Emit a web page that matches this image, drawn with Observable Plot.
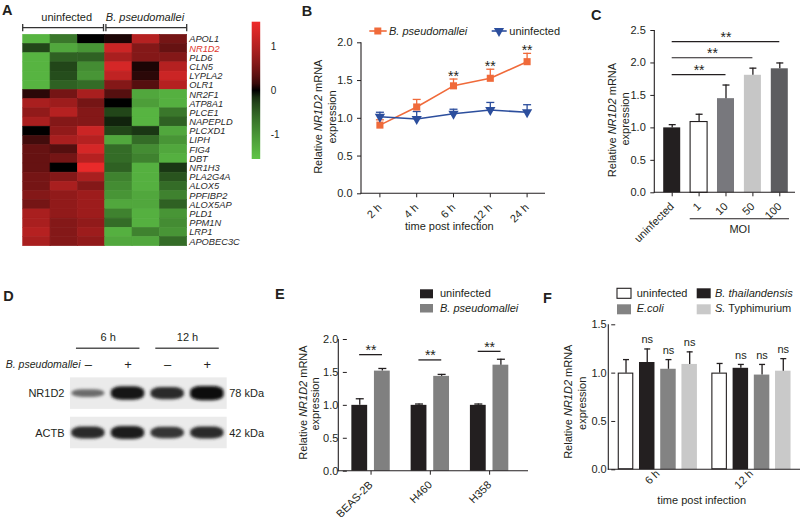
<!DOCTYPE html>
<html><head><meta charset="utf-8">
<script src="https://cdn.jsdelivr.net/npm/d3@7"></script>
<script src="https://cdn.jsdelivr.net/npm/@observablehq/plot@0.6"></script>
<style>
html,body{margin:0;padding:0;background:#fff;}
#root{position:relative;width:800px;height:517px;overflow:hidden;font-family:'Liberation Sans',Arial,sans-serif;}
</style></head><body><div id="root"></div>
<script>
// ---------------- DATA ----------------
// A: heatmap
const heatSamples = ["uninfected 1","uninfected 2","uninfected 3","B. pseudomallei 1","B. pseudomallei 2","B. pseudomallei 3"];
const heatGroups = ["uninfected","B. pseudomallei"];
const genes = ["APOL1","NR1D2","PLD6","CLN5","LYPLA2","OLR1","NR2F1","ATP8A1","PLCE1","NAPEPLD","PLCXD1","LIPH","FIG4","DBT","NR1H3","PLA2G4A","ALOX5","PPFIBP2","ALOX5AP","PLD1","PPM1N","LRP1","APOBEC3C"];
const heatValues = [
  [-1.35,-0.7, 0.0, 0.05, 1.0, 0.5],
  [-0.3,-1.2,-1.0, 1.2, 0.6, 0.4],
  [-1.35,-0.5,-0.5, 0.9, 0.6, 0.6],
  [-1.35,-0.3,-0.9, 1.3, 0.05, 1.0],
  [-1.35,-0.35,-1.0, 1.1, 0.1, 1.2],
  [-1.35,-0.5,-0.6, 0.6, 0.3, 1.0],
  [ 0.1, 0.5, 0.9, 0.3,-1.2,-1.3],
  [ 0.9, 0.8, 0.5, 0.0,-1.1,-1.3],
  [ 0.7, 1.0, 0.6,-0.3,-1.35,-0.7],
  [ 0.9, 0.6, 0.6,-0.1,-1.35,-0.5],
  [ 0.0, 0.7, 1.2,-0.3,-0.2,-1.2],
  [ 0.2, 0.9, 1.0,-1.2,-0.6,-1.0],
  [ 0.4, 0.3, 1.3,-0.6,-0.9,-1.2],
  [ 0.4, 0.5, 1.0,-0.6,-0.8,-1.3],
  [ 0.4, 0.0, 1.5,-0.5,-1.3,-0.2],
  [ 0.5, 0.6, 0.9,-0.8,-1.3,-0.4],
  [ 0.5, 0.9, 0.6,-0.9,-1.3,-0.6],
  [ 0.6, 0.7, 0.8,-1.0,-1.2,-0.8],
  [ 0.5, 0.7, 0.8,-1.2,-1.2,-0.5],
  [ 0.9, 0.7, 0.8,-0.8,-1.3,-1.0],
  [ 0.9, 0.6, 0.7,-0.6,-1.3,-0.9],
  [ 1.0, 0.6, 0.8,-1.3,-0.8,-1.0],
  [ 0.9, 0.6, 0.7,-1.2,-1.2,-0.6]
];
const highlightGene = "NR1D2";
const colorbarTicks = [1, 0, -1];

// B: time course
const timesB = ["2 h","4 h","6 h","12 h","24 h"];
const seriesB = ["B. pseudomallei","uninfected"];
const bpMean = [0.91, 1.15, 1.43, 1.53, 1.75];
const bpErr  = [0.07, 0.10, 0.09, 0.12, 0.11];
const bpSig  = ["", "", "**", "**", "**"];
const uiMean = [1.02, 0.99, 1.06, 1.11, 1.08];
const uiErr  = [0.06, 0.10, 0.06, 0.10, 0.10];

// C: MOI
const moiCats = ["uninfected","1","10","50","100"];
const moiMean = [1.00, 1.09, 1.45, 1.81, 1.91];
const moiErr  = [0.05, 0.12, 0.21, 0.11, 0.09];
const moiSigTo = ["10","50","100"];
const moiSigY  = [1.82, 2.08, 2.33];
const moiGroup = ["1","10","50","100"];

// D: western blot
const laneTimes = ["6 h","6 h","12 h","12 h"];
const laneInfected = ["–","+","–","+"];
const proteins = ["NR1D2","ACTB"];
const proteinKDa = ["78 kDa","42 kDa"];
const nr1d2Intensity = [0.55, 0.95, 0.85, 1.0];
const actbIntensity  = [0.85, 0.9, 0.8, 0.85];

// E: cell lines
const cellLines = ["BEAS-2B","H460","H358"];
const conditionsE = ["uninfected","B. pseudomallei"];
const eUninf = [1.00, 1.00, 1.00];
const eUninfErr = [0.10, 0.02, 0.02];
const eBp = [1.52, 1.44, 1.61];
const eBpErr = [0.04, 0.03, 0.09];
const eSigY = [1.77, 1.69, 1.82];

// F: other bacteria
const timesF = ["6 h","12 h"];
const bugs = ["uninfected","B. thailandensis","E.coli","S. Typhimurium"];
const f6Mean = [1.00, 1.11, 1.04, 1.09];
const f6Err  = [0.14, 0.14, 0.10, 0.13];
const f12Mean = [1.00, 1.05, 0.98, 1.02];
const f12Err  = [0.10, 0.04, 0.11, 0.13];

// ---------------- HELPERS ----------------
const FONT = "'Liberation Sans', Arial, Helvetica, sans-serif";
const INK = "#231f20";
const ORANGE = "#f06a3a";
const BLUE = "#2c4e9d";
const root = document.getElementById("root");
const baseStyle = {fontFamily: FONT, fontSize: "11px", color: INK, background: "transparent", overflow: "visible"};
const capSymbol = w => ({draw(ctx) { ctx.moveTo(-w / 2, 0); ctx.lineTo(w / 2, 0); }});
function place(svg, left, top) {
  svg.style.position = "absolute"; svg.style.left = left + "px"; svg.style.top = top + "px";
  root.appendChild(svg); return svg;
}
function axisLines(svg, {marginLeft, marginRight, width, yMax}) {
  const y = svg.scale("y");
  const y0 = y.apply(0), y1 = y.apply(yMax);
  const g = d3.select(svg).append("g").attr("stroke", INK).attr("stroke-width", 1.1).attr("fill", "none");
  g.append("line").attr("x1", marginLeft).attr("x2", marginLeft).attr("y1", y1).attr("y2", y0 + 0.5);
  g.append("line").attr("x1", marginLeft - 0.5).attr("x2", width - marginRight).attr("y1", y0).attr("y2", y0);
}

// ---------------- A: HEATMAP ----------------
const heatCells = genes.flatMap((g, i) => heatSamples.map((s, j) => ({gene: g, sample: s, value: heatValues[i][j]})));
const A = Plot.plot({
  width: 290, height: 260, marginLeft: 22.7, marginRight: 103.3, marginTop: 34.3, marginBottom: 14.3,
  style: baseStyle,
  x: {domain: heatSamples, padding: 0, axis: null, round: false},
  y: {domain: genes, padding: 0, axis: null, round: false},
  color: {type: "linear", domain: [-1.55, 0, 1.55], range: ["#5fc447", "#000000", "#ee2b2b"], interpolate: d3.interpolateRgb.gamma(1.6)},
  marks: [
    Plot.cell(heatCells, {x: "sample", y: "gene", fill: "value", stroke: "value", strokeWidth: 0.6}),
    Plot.text(genes.filter(g => g !== highlightGene), {y: d => d, text: d => d, frameAnchor: "right", textAnchor: "start", dx: 2, fontStyle: "italic", fontSize: 9.3, fill: "#2a2a2a"}),
    Plot.text([highlightGene], {y: d => d, text: d => d, frameAnchor: "right", textAnchor: "start", dx: 2, fontStyle: "italic", fontSize: 9.3, fill: "#e0352c"})
  ]
});
place(A, 0, 0);

// ---------------- B: TIME COURSE ----------------
const bRows = timesB.flatMap((t, i) => [
  {time: t, series: seriesB[0], mean: bpMean[i], err: bpErr[i], sig: bpSig[i]},
  {time: t, series: seriesB[1], mean: uiMean[i], err: uiErr[i], sig: ""}
]);
const bOpts = {width: 260, height: 250, marginLeft: 71, marginRight: 5, marginTop: 42.3, marginBottom: 56.7};
const B = Plot.plot({
  ...bOpts, style: baseStyle,
  x: {type: "point", domain: timesB, padding: 0.5, tickRotate: -45, tickSize: 4, label: null, round: false},
  y: {domain: [0, 2], ticks: [0, 0.5, 1, 1.5, 2], tickFormat: ".1f", tickSize: 4, label: null},
  color: {domain: seriesB, range: [ORANGE, BLUE]},
  marks: [
    Plot.ruleX(bRows, {x: "time", y1: "mean", y2: d => d.mean + d.err, stroke: "series", strokeWidth: 1.3}),
    Plot.dot(bRows, {x: "time", y: d => d.mean + d.err, symbol: capSymbol(8), stroke: "series", fill: "none", strokeWidth: 1.3}),
    Plot.line(bRows, {x: "time", y: "mean", stroke: "series", strokeWidth: 1.6}),
    Plot.dot(bRows.filter(d => d.series === seriesB[0]), {x: "time", y: "mean", symbol: "square", r: 4, fill: "series"}),
    Plot.dot(bRows.filter(d => d.series === seriesB[1]), {x: "time", y: "mean", symbol: "triangle", rotate: 180, r: 3.8, fill: "series"}),
    Plot.text(bRows.filter(d => d.sig), {x: "time", y: d => d.mean + d.err, text: "sig", dy: -2.6, fontSize: 14})
  ]
});
axisLines(B, {...bOpts, yMax: 2});
place(B, 290, 0);

// ---------------- C: MOI ----------------
const cRows = moiCats.map((c, i) => ({cat: c, i, mean: moiMean[i], err: moiErr[i]}));
const cIdx = c => moiCats.indexOf(c);
const cSig = moiSigTo.map((t, k) => ({from: moiCats[0], to: t, y: moiSigY[k]}));
const cOpts = {width: 240, height: 250, marginLeft: 94.3, marginRight: 5, marginTop: 30, marginBottom: 57.7};
const C = Plot.plot({
  ...cOpts, style: baseStyle,
  x: {domain: [-0.647, 4.584], ticks: moiCats.map((c, i) => i), tickFormat: i => moiCats[i], tickRotate: -45, tickSize: 4, label: null},
  y: {domain: [0, 2.5], ticks: [0, 0.5, 1, 1.5, 2, 2.5], tickFormat: ".1f", tickSize: 4, label: null},
  color: {domain: moiCats, range: [INK, "#ffffff", "#78787d", "#c6c6c6", "#5d5d60"]},
  marks: [
    Plot.rect(cRows, {x1: d => d.i - 0.316, x2: d => d.i + 0.316, y1: 0, y2: "mean", fill: "cat"}),
    Plot.rect(cRows.filter(d => d.cat === "1"), {x1: d => d.i - 0.316, x2: d => d.i + 0.316, y1: 0, y2: "mean", fill: "none", stroke: INK, strokeWidth: 1.1}),
    Plot.ruleX(cRows, {x: "i", y1: "mean", y2: d => d.mean + d.err, stroke: INK, strokeWidth: 1.3}),
    Plot.dot(cRows, {x: "i", y: d => d.mean + d.err, symbol: capSymbol(7), stroke: INK, fill: "none", strokeWidth: 1.3}),
    Plot.ruleY(cSig, {y: "y", x1: d => cIdx(d.from), x2: d => cIdx(d.to), stroke: INK, strokeWidth: 1.2}),
    Plot.text(cSig, {x: d => (cIdx(d.from) + cIdx(d.to)) / 2, y: "y", text: () => "**", dy: -4.1, fontSize: 14}),
    Plot.ruleY(["MOI"], {y: -0.4, x1: () => cIdx(moiGroup[0]) - 0.33, x2: () => cIdx(moiGroup[moiGroup.length - 1]) + 0.36, stroke: INK, strokeWidth: 1.1}),
    Plot.text(["MOI"], {y: -0.562, x: () => (cIdx(moiGroup[0]) - 0.33 + cIdx(moiGroup[moiGroup.length - 1]) + 0.36) / 2, text: d => d, fontSize: 11})
  ]
});
axisLines(C, {...cOpts, yMax: 2.5});
place(C, 560, 0);

// ---------------- D: WESTERN BLOT ----------------
const bands = proteins.flatMap((p, row) => (row === 0 ? nr1d2Intensity : actbIntensity).map((v, lane) => ({protein: p, row, lane, v})));
const laneGroups = d3.groups(laneTimes.map((t, i) => ({t, i})), d => d.t)
  .map(([t, ls]) => ({time: t, first: ls[0].i, last: ls[ls.length - 1].i}));
const D = Plot.plot({
  width: 270, height: 237, marginLeft: 70, marginRight: 43.3, marginTop: 93.4, marginBottom: 64.8,
  style: baseStyle,
  x: {domain: [-0.45, 3.5], axis: null},
  y: {domain: [-0.5, 1.5], reverse: true, axis: null},
  color: {type: "linear", domain: [0.4, 1], range: ["#8c8c8c", "#080808"]},
  marks: [
    Plot.rect(proteins, {x1: -0.45, x2: 3.5, y1: (d, i) => i - 0.4, y2: (d, i) => i + 0.4, fill: "#ebebeb"}),
    Plot.rect(bands, {x1: d => d.lane - 0.42, x2: d => d.lane + 0.42, y1: d => d.row - 0.18 * d.v, y2: d => d.row + 0.18 * d.v, fill: "v", rx: 11, ry: 5}),
    Plot.text(proteins, {x: -0.45, y: (d, i) => i, text: d => d, textAnchor: "end", dx: -6, fontSize: 11}),
    Plot.text(proteinKDa, {x: 3.5, y: (d, i) => i, text: d => d, textAnchor: "start", dx: 2, fontSize: 11}),
    Plot.text(laneInfected, {x: (d, i) => i, y: -0.73, text: d => d, fontSize: 13}),
    Plot.text(["B. pseudomallei"], {x: -0.45, y: -0.73, text: d => d, textAnchor: "end", dx: 10, fontStyle: "italic", fontSize: 10.5}),
    Plot.ruleY(laneGroups, {x1: d => d.first - 0.3, x2: d => d.last + 0.3, y: -1.15, stroke: "#555", strokeWidth: 1.6}),
    Plot.text(laneGroups, {x: d => (d.first + d.last) / 2, y: -1.43, text: "time", fontSize: 11})
  ]
});
{
  const dsel = d3.select(D);
  dsel.append("defs").append("filter").attr("id", "bandBlur").attr("x", "-30%").attr("y", "-100%").attr("width", "160%").attr("height", "300%")
    .append("feGaussianBlur").attr("stdDeviation", 1.6);
  dsel.selectAll("rect").filter(function() { return this.hasAttribute("rx"); }).attr("filter", "url(#bandBlur)");
}
place(D, 0, 280);

// ---------------- E: CELL LINES ----------------
const eRows = cellLines.flatMap((l, i) => [
  {line: l, cond: conditionsE[0], mean: eUninf[i], err: eUninfErr[i]},
  {line: l, cond: conditionsE[1], mean: eBp[i], err: eBpErr[i]}
]);
const eSig = cellLines.map((l, i) => ({line: l, y: eSigY[i]}));
const eOpts = {width: 270, height: 237, marginLeft: 68.3, marginRight: 12, marginTop: 59, marginBottom: 46.3};
const E = Plot.plot({
  ...eOpts, style: baseStyle,
  fx: {domain: cellLines, paddingInner: 0.2, paddingOuter: 0.2, align: 0.36, round: false, label: null, axis: "bottom", tickRotate: -45, tickSize: 4},
  x: {domain: conditionsE, paddingInner: 0.3, paddingOuter: 0.2, axis: null, round: false},
  y: {domain: [0, 2], ticks: [0, 0.5, 1, 1.5, 2], tickFormat: ".1f", tickSize: 4, label: null},
  color: {domain: conditionsE, range: [INK, "#808080"]},
  marks: [
    Plot.barY(eRows, {fx: "line", x: "cond", y: "mean", fill: "cond"}),
    Plot.ruleX(eRows, {fx: "line", x: "cond", y1: "mean", y2: d => d.mean + d.err, stroke: INK, strokeWidth: 1.3}),
    Plot.dot(eRows, {fx: "line", x: "cond", y: d => d.mean + d.err, symbol: capSymbol(8), stroke: INK, fill: "none", strokeWidth: 1.3}),
    Plot.ruleY(eSig, {fx: "line", y: "y", insetLeft: 12.3, insetRight: 12.3, stroke: INK, strokeWidth: 1.3}),
    Plot.text(eSig, {fx: "line", y: "y", text: () => "**", dy: -3.9, fontSize: 14})
  ]
});
axisLines(E, {...eOpts, yMax: 2});
place(E, 270, 280);

// ---------------- F: OTHER BACTERIA ----------------
const fRows = timesF.flatMap((t, k) => bugs.map((b, i) => ({
  time: t, bug: b, mean: (k === 0 ? f6Mean : f12Mean)[i], err: (k === 0 ? f6Err : f12Err)[i]
})));
const fOpts = {width: 260, height: 237, marginLeft: 68.3, marginRight: 0, marginTop: 44.3, marginBottom: 47.7};
const F = Plot.plot({
  ...fOpts, style: baseStyle,
  fx: {domain: timesF, paddingInner: 0.1, paddingOuter: 0.074, round: false, label: null, axis: "bottom", tickRotate: -45, tickSize: 0, tickPadding: 2},
  x: {domain: bugs, paddingInner: 0.27, paddingOuter: 0.12, axis: null, round: false},
  y: {domain: [0, 1.5], ticks: [0, 0.5, 1, 1.5], tickFormat: ".1f", tickSize: 4, label: null},
  color: {domain: bugs, range: ["#ffffff", INK, "#838383", "#c9c9c9"]},
  marks: [
    Plot.barY(fRows, {fx: "time", x: "bug", y: "mean", fill: "bug"}),
    Plot.barY(fRows.filter(d => d.bug === bugs[0]), {fx: "time", x: "bug", y: "mean", fill: "none", stroke: INK, strokeWidth: 1.1, inset: 0.5}),
    Plot.ruleX(fRows, {fx: "time", x: "bug", y1: "mean", y2: d => d.mean + d.err, stroke: INK, strokeWidth: 1.3}),
    Plot.dot(fRows, {fx: "time", x: "bug", y: d => d.mean + d.err, symbol: capSymbol(6), stroke: INK, fill: "none", strokeWidth: 1.3}),
    Plot.text(fRows.filter(d => d.bug !== bugs[0]), {fx: "time", x: "bug", y: d => d.mean + d.err, text: () => "ns", dy: -9, fontSize: 11})
  ]
});
axisLines(F, {...fOpts, yMax: 1.5});
place(F, 540, 280);

// ---------------- OVERLAY TEXT / LEGENDS ----------------
const ov = d3.select(root).append("svg").attr("width", 800).attr("height", 517)
  .style("position", "absolute").style("left", "0px").style("top", "0px")
  .attr("font-family", FONT);
function label(x, y, parts, {size = 11, anchor = "start", weight = null, rotate = 0, fill = INK, dy = null} = {}) {
  const t = ov.append("text").attr("transform", `translate(${x},${y})` + (rotate ? ` rotate(${rotate})` : ""))
    .attr("text-anchor", anchor).attr("font-size", size).attr("fill", fill);
  if (weight) t.attr("font-weight", weight);
  if (dy) t.attr("dy", dy);
  for (const p of (typeof parts === "string" ? [[parts]] : parts)) t.append("tspan").attr("font-style", p[1] ? "italic" : null).text(p[0]);
}
const yTitle = [["Relative "], ["NR1D2", true], [" mRNA"]];
function yLabel(x1, y1, x2, y2) {
  label(x1, y1, yTitle, {anchor: "middle", rotate: -90, dy: "0.35em"});
  label(x2, y2, "expression", {anchor: "middle", rotate: -90, dy: "0.35em"});
}

// panel letters
[["A", 2, 15], ["B", 301.7, 15.5], ["C", 591, 19.5], ["D", 3.3, 300.7], ["E", 275, 299.3], ["F", 543, 303]]
  .forEach(([t, x, y]) => label(x, y, t, {size: 14.5, weight: "bold"}));

// A header and brackets
label(66.7, 20.7, heatGroups[0], {anchor: "middle"});
label(145, 20.7, [[heatGroups[1], true]], {anchor: "middle"});
{
  const xs = A.scale("x");
  const bw = 164 / 6;
  const spans = [[xs.apply(heatSamples[0]), xs.apply(heatSamples[2]) + bw - 1.2], [xs.apply(heatSamples[3]) + 1.2, xs.apply(heatSamples[5]) + bw]];
  const g = ov.append("g").attr("stroke", "#333").attr("stroke-width", 1.3).attr("fill", "none");
  for (const [a, b] of spans) {
    g.append("line").attr("x1", a).attr("x2", b).attr("y1", 27.7).attr("y2", 27.7);
    g.append("line").attr("x1", a).attr("x2", a).attr("y1", 24).attr("y2", 31.3);
    g.append("line").attr("x1", b).attr("x2", b).attr("y1", 24).attr("y2", 31.3);
  }
}
// colour bar
{
  const cs = A.scale("color");
  const grad = ov.append("defs").append("linearGradient").attr("id", "cbar").attr("x1", 0).attr("x2", 0).attr("y1", 0).attr("y2", 1);
  d3.range(0, 21).forEach(k => {
    const v = 1.55 - k * 3.1 / 20;
    grad.append("stop").attr("offset", (k / 20)).attr("stop-color", cs.apply(v));
  });
  ov.append("rect").attr("x", 251.7).attr("y", 21.7).attr("width", 8.5).attr("height", 137.3).attr("fill", "url(#cbar)");
  colorbarTicks.forEach(v => label(270.7, 21.7 + (1.55 - v) / 3.1 * 137.3 + 3.6, String(v), {size: 10}));
}

// B
yLabel(318.3, 116.7, 331.7, 117);
label(449.3, 229.5, "time post infection", {anchor: "middle"});
{
  const cs = B.scale("color");
  ov.append("line").attr("x1", 369.3).attr("x2", 386.7).attr("y1", 31).attr("y2", 31).attr("stroke", cs.apply(seriesB[0])).attr("stroke-width", 1.6);
  ov.append("rect").attr("x", 374.3).attr("y", 27.5).attr("width", 7).attr("height", 7).attr("fill", cs.apply(seriesB[0]));
  label(389, 35, [[seriesB[0], true]]);
  ov.append("line").attr("x1", 491.7).attr("x2", 506.7).attr("y1", 31).attr("y2", 31).attr("stroke", cs.apply(seriesB[1])).attr("stroke-width", 1.6);
  ov.append("path").attr("d", d3.symbol(d3.symbolTriangle, 45)()).attr("transform", "translate(499,31) rotate(180)").attr("fill", cs.apply(seriesB[1]));
  label(509.3, 35, seriesB[1]);
}

// C
yLabel(611.7, 120, 625, 119);

// E
yLabel(303.3, 402.5, 315, 404);
{
  const cs = E.scale("color");
  ov.append("rect").attr("x", 420).attr("y", 289.3).attr("width", 13).attr("height", 9).attr("fill", cs.apply(conditionsE[0]));
  ov.append("rect").attr("x", 420).attr("y", 304).attr("width", 13).attr("height", 8.5).attr("fill", cs.apply(conditionsE[1]));
  label(440, 297.3, conditionsE[0]);
  label(440, 312.3, [[conditionsE[1], true]]);
}

// F
yLabel(568.3, 401.7, 581.7, 403.3);
label(701.7, 503.5, "time post infection", {anchor: "middle"});
{
  const cs = F.scale("color");
  const pos = [[617, 288.3, 636.7, 296.7], [696.7, 288.3, 715, 296.7], [617, 304.3, 636.7, 312.3], [696.7, 304.3, 715, 312.3]];
  const parts = {"uninfected": [["uninfected"]], "B. thailandensis": [["B. thailandensis", true]], "E.coli": [["E.coli", true]], "S. Typhimurium": [["S.", true], [" Typhimurium"]]};
  bugs.forEach((b, k) => {
    const [bx, by, tx, ty] = pos[k];
    ov.append("rect").attr("x", bx).attr("y", by).attr("width", 14).attr("height", 10)
      .attr("fill", cs.apply(b)).attr("stroke", b === bugs[0] ? INK : "none").attr("stroke-width", 1.1);
    label(tx, ty, parts[b]);
  });
}
</script></body></html>
